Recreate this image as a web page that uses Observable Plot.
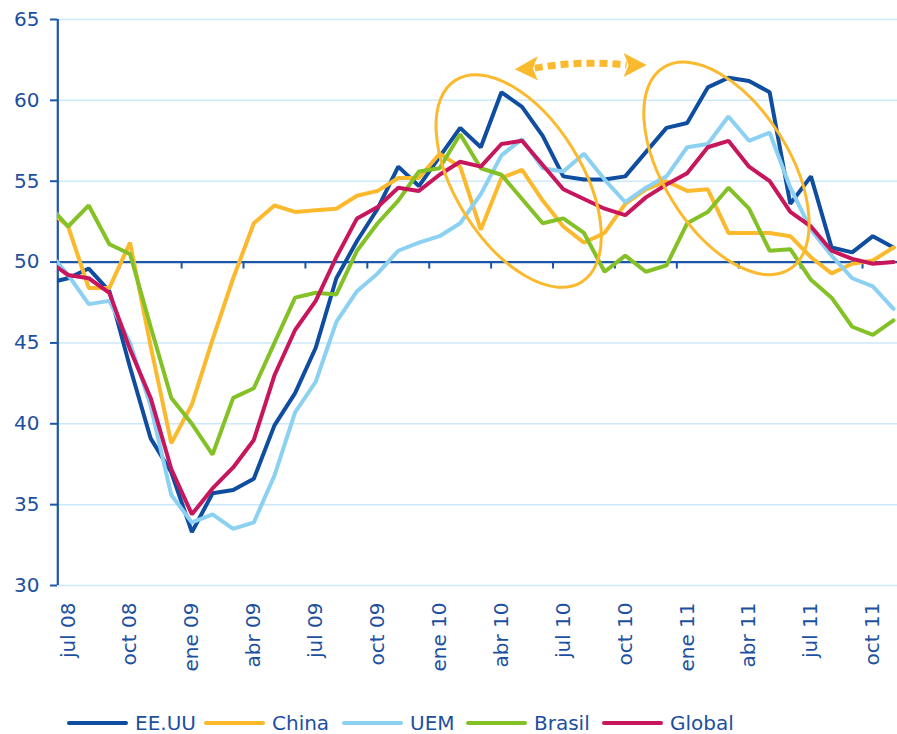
<!DOCTYPE html>
<html>
<head>
<meta charset="utf-8">
<script src="https://cdn.jsdelivr.net/npm/d3@7"></script>
<script src="https://cdn.jsdelivr.net/npm/@observablehq/plot@0.6"></script>
<style>
  html, body { margin: 0; padding: 0; background: #ffffff; }
  body { width: 897px; height: 734px; position: relative; overflow: hidden; font-family: "DejaVu Sans", sans-serif; }
  #legend { position: absolute; left: 0; top: 708px; width: 897px; height: 26px; }
  .item { position: absolute; top: 0; display: flex; align-items: center; height: 30px; }
  .sw { width: 61px; height: 4px; border-radius: 2px; margin-right: 7px; }
  .lb { font-size: 20px; color: #1d4f9f; white-space: nowrap; }
</style>
</head>
<body>
<div id="chart"></div>
<div id="legend"></div>
<script>
// Monthly categories (first one sits just left of the y axis and is clipped)
const months = ["jun 08","jul 08","ago 08","sep 08","oct 08","nov 08","dic 08",
  "ene 09","feb 09","mar 09","abr 09","may 09","jun 09","jul 09","ago 09","sep 09","oct 09","nov 09","dic 09",
  "ene 10","feb 10","mar 10","abr 10","may 10","jun 10","jul 10","ago 10","sep 10","oct 10","nov 10","dic 10",
  "ene 11","feb 11","mar 11","abr 11","may 11","jun 11","jul 11","ago 11","sep 11","oct 11","nov 11"];

// Series values (PMI manufacturas), one per month above
const eeuu   = [48.7,49.0,49.6,48.2,43.5,39.1,37.0,33.3,35.7,35.9,36.6,39.9,41.9,44.7,49.0,51.3,53.3,55.9,54.7,56.5,58.3,57.1,60.5,59.6,57.8,55.3,55.1,55.1,55.3,56.8,58.3,58.6,60.8,61.4,61.2,60.5,53.6,55.3,50.9,50.6,51.6,50.9];
const china  = [53.3,52.2,48.4,48.4,51.2,44.8,38.8,41.2,45.2,49.0,52.4,53.5,53.1,53.2,53.3,54.1,54.4,55.2,55.2,56.7,55.9,52.0,55.2,55.7,53.8,52.2,51.2,51.8,53.6,54.5,55.0,54.4,54.5,51.8,51.8,51.8,51.6,50.3,49.3,49.9,50.1,50.9];
const uem    = [50.7,49.2,47.4,47.6,45.0,41.1,35.6,33.9,34.4,33.5,33.9,36.8,40.7,42.6,46.3,48.2,49.3,50.7,51.2,51.6,52.4,54.2,56.6,57.6,55.8,55.6,56.7,55.1,53.7,54.6,55.3,57.1,57.3,59.0,57.5,58.0,54.6,52.0,50.4,49.0,48.5,47.1];
const brasil = [53.6,52.2,53.5,51.1,50.5,46.0,41.6,40.0,38.1,41.6,42.2,45.0,47.8,48.1,48.0,50.7,52.4,53.8,55.6,55.8,57.9,55.8,55.4,53.9,52.4,52.7,51.8,49.4,50.4,49.4,49.8,52.4,53.1,54.6,53.3,50.7,50.8,48.9,47.8,46.0,45.5,46.4];
const global = [50.1,49.2,49.0,48.1,44.6,41.6,37.2,34.4,36.0,37.3,39.0,43.0,45.8,47.6,50.3,52.7,53.4,54.6,54.4,55.4,56.2,55.9,57.3,57.5,56.0,54.5,53.9,53.3,52.9,54.0,54.8,55.5,57.1,57.5,55.9,55.0,53.1,52.2,50.7,50.2,49.9,50.0];

const seriesNames  = ["EE.UU","China","UEM","Brasil","Global"];
const seriesValues = [eeuu, china, uem, brasil, global];
const seriesColors = ["#0e4d9f","#fbb92d","#8cd0f2","#84c126","#c8165c"];

// Tick labels
const yTicks = [30,35,40,45,50,55,60,65];
const xTickLabels = ["jul 08","oct 08","ene 09","abr 09","jul 09","oct 09","ene 10","abr 10","jul 10","oct 10","ene 11","abr 11","jul 11","oct 11"];

// Annotation anchors (data coordinates: month position, value)
const ovals = [{k: 21.86, v: 54.98}, {k: 31.93, v: 55.76}];
const arrowEnds = [{k: 21.67, v: 61.9}, {k: 28.06, v: 62.15}];

// ---- build ----
const pos = m => months.indexOf(m) - 1;          // month position (jul 08 = 0)
const rows = [];
seriesNames.forEach((s, j) => seriesValues[j].forEach((v, i) => rows.push({series: s, k: i - 1, month: months[i], v})));
const tickPos = xTickLabels.map(pos);
const boundaries = tickPos.map(p => p - 0.5).filter(p => p > 0);

const axisBlue = "#1c57a7";
const textBlue = "#1d4f9f";
const gridBlue = "#cbe9f8";
const orange = "#fbb92d";

const annotations = (index, scales) => {
  const g = d3.create("svg:g");
  for (const o of ovals) {
    const cx = scales.x(o.k), cy = scales.y(o.v);
    g.append("ellipse").attr("cx", cx).attr("cy", cy).attr("rx", 119).attr("ry", 63)
      .attr("transform", `rotate(58 ${cx} ${cy})`)
      .attr("fill", "none").attr("stroke", orange).attr("stroke-width", 3);
  }
  const [a, b] = arrowEnds;
  const L = [scales.x(a.k), scales.y(a.v)], R = [scales.x(b.k), scales.y(b.v)];
  const h = 23, w = 12, n = 18;
  const sx = L[0] + n + 2, ex = R[0] - n - 2;
  const mx = (sx + ex) / 2, my = (L[1] + R[1]) / 2 - 7;
  g.append("path").attr("d", `M${sx},${L[1] - 1} Q${mx},${my} ${ex},${R[1]}`)
    .attr("fill", "none").attr("stroke", orange).attr("stroke-width", 7).attr("stroke-dasharray", "8 5");
  g.append("path").attr("d", `M${L[0]},${L[1]} L${L[0] + h},${L[1] - w - 1} L${L[0] + n},${L[1] - 1} L${L[0] + h},${L[1] + w - 1} Z`)
    .attr("fill", orange);
  g.append("path").attr("d", `M${R[0]},${R[1]} L${R[0] - h},${R[1] - w} L${R[0] - n},${R[1]} L${R[0] - h},${R[1] + w} Z`)
    .attr("fill", orange);
  return g.node();
};

const chart = Plot.plot({
  width: 897,
  height: 700,
  marginLeft: 57,
  marginRight: 0,
  marginTop: 19,
  marginBottom: 115,
  style: {fontFamily: "'DejaVu Sans', sans-serif", fontSize: "20px", color: textBlue, background: "#ffffff", overflow: "visible"},
  x: {type: "linear", domain: [-0.5, 40.5], range: [57.3, 903.3]},
  y: {domain: [30, 65], range: [585, 19]},
  marks: [
    Plot.ruleY(yTicks.filter(t => t !== 50), {stroke: gridBlue, strokeWidth: 1.5}),
    Plot.ruleY([50], {stroke: axisBlue, strokeWidth: 2.2}),
    Plot.ruleX(boundaries, {y1: 50, y2: 49.57, stroke: axisBlue, strokeWidth: 2}),
    Plot.ruleX([-0.5], {y1: 30, y2: 65, stroke: axisBlue, strokeWidth: 2.2}),
    Plot.axisY({ticks: yTicks, tickSize: 7, tickPadding: 11, label: null, stroke: axisBlue, strokeWidth: 2, fontSize: 20}),
    Plot.axisX({ticks: tickPos, tickFormat: k => months[k + 1], tickRotate: -90, tickSize: 0, tickPadding: 17, label: null, fontSize: 20}),
    ...seriesNames.map((s, j) => Plot.line(rows.filter(r => r.series === s), {
      x: "k", y: "v", stroke: seriesColors[j], strokeWidth: 4, strokeLinejoin: "miter", clip: true
    })),
    annotations
  ]
});
document.getElementById("chart").appendChild(chart);

// Legend
const legendLeft = [67, 204, 342, 466, 602];
const legend = document.getElementById("legend");
seriesNames.forEach((s, j) => {
  const it = document.createElement("div");
  it.className = "item";
  it.style.left = legendLeft[j] + "px";
  it.innerHTML = `<div class="sw" style="background:${seriesColors[j]}"></div><span class="lb">${s}</span>`;
  legend.appendChild(it);
});
</script>
</body>
</html>
